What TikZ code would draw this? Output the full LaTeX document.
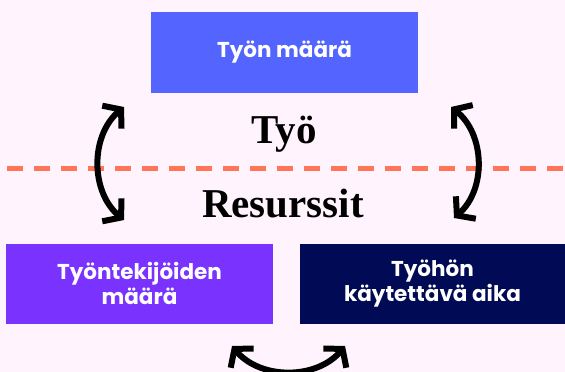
\documentclass[tikz,border=0pt]{standalone}
\usepackage{fontspec}
\setmainfont{Liberation Serif}
\newfontfamily\boxfont{Poppins}
\usetikzlibrary{arrows.meta}
\definecolor{bgpink}{HTML}{FFF4FD}
\definecolor{workblue}{HTML}{5465FF}
\definecolor{staffpurple}{HTML}{7A32FF}
\definecolor{timenavy}{HTML}{000A55}
\definecolor{splitcoral}{HTML}{FF7558}
\tikzset{
  fieldbox/.style={inner sep=0pt, minimum height=80pt, text=white, align=center,
    font=\boxfont\bfseries\fontsize{21.5}{25}\selectfont},
  bigtitle/.style={inner sep=0pt, font=\bfseries\fontsize{41}{41}\selectfont},
  swap/.style={line width=6pt, {Straight Barb[length=12pt,width=30pt]}-{Straight Barb[length=12pt,width=30pt]}}
}
\begin{document}
\begin{tikzpicture}[x=1pt,y=-1pt]
	\fill[bgpink] (0,0) rectangle (565,372);
	\clip (0,0) rectangle (565,372);
	\node[fieldbox, fill=workblue, minimum width=267pt, minimum height=81pt] (work) at (284.5,52.5) {Työn määrä};
	\node[fieldbox, fill=staffpurple, minimum width=267pt] (staff) at (139.5,283.5) {Työntekijöiden\\määrä};
	\node[fieldbox, fill=timenavy, minimum width=265pt] (time) at (432.5,283.5) {Työhön\\käytettävä aika};
	% dividing line between the two halves
	\draw[splitcoral, line width=5pt, dash pattern=on 16pt off 11pt] (7,168.5) coordinate(splitl) -- (565,168.5) coordinate(splitr);
	\node[bigtitle, anchor=base] (tyo) at (284,143) {Työ};
	\node[bigtitle, anchor=base] (res) at (283,217) {Resurssit};
	% exchange arrows
	\coordinate (lt) at (124,107);
	\coordinate (lb) at (124,220);
	\coordinate (rt) at (451,107);
	\coordinate (rb) at (454,218);
	\coordinate (bl) at (232,346);
	\coordinate (br) at (345,346);
	\draw[swap] (lt) to[bend right=50] (lb);
	\draw[swap] (rt) to[bend left=50] (rb);
	\draw[swap] (bl) to[bend right=50] (br);
\end{tikzpicture}
\end{document}
